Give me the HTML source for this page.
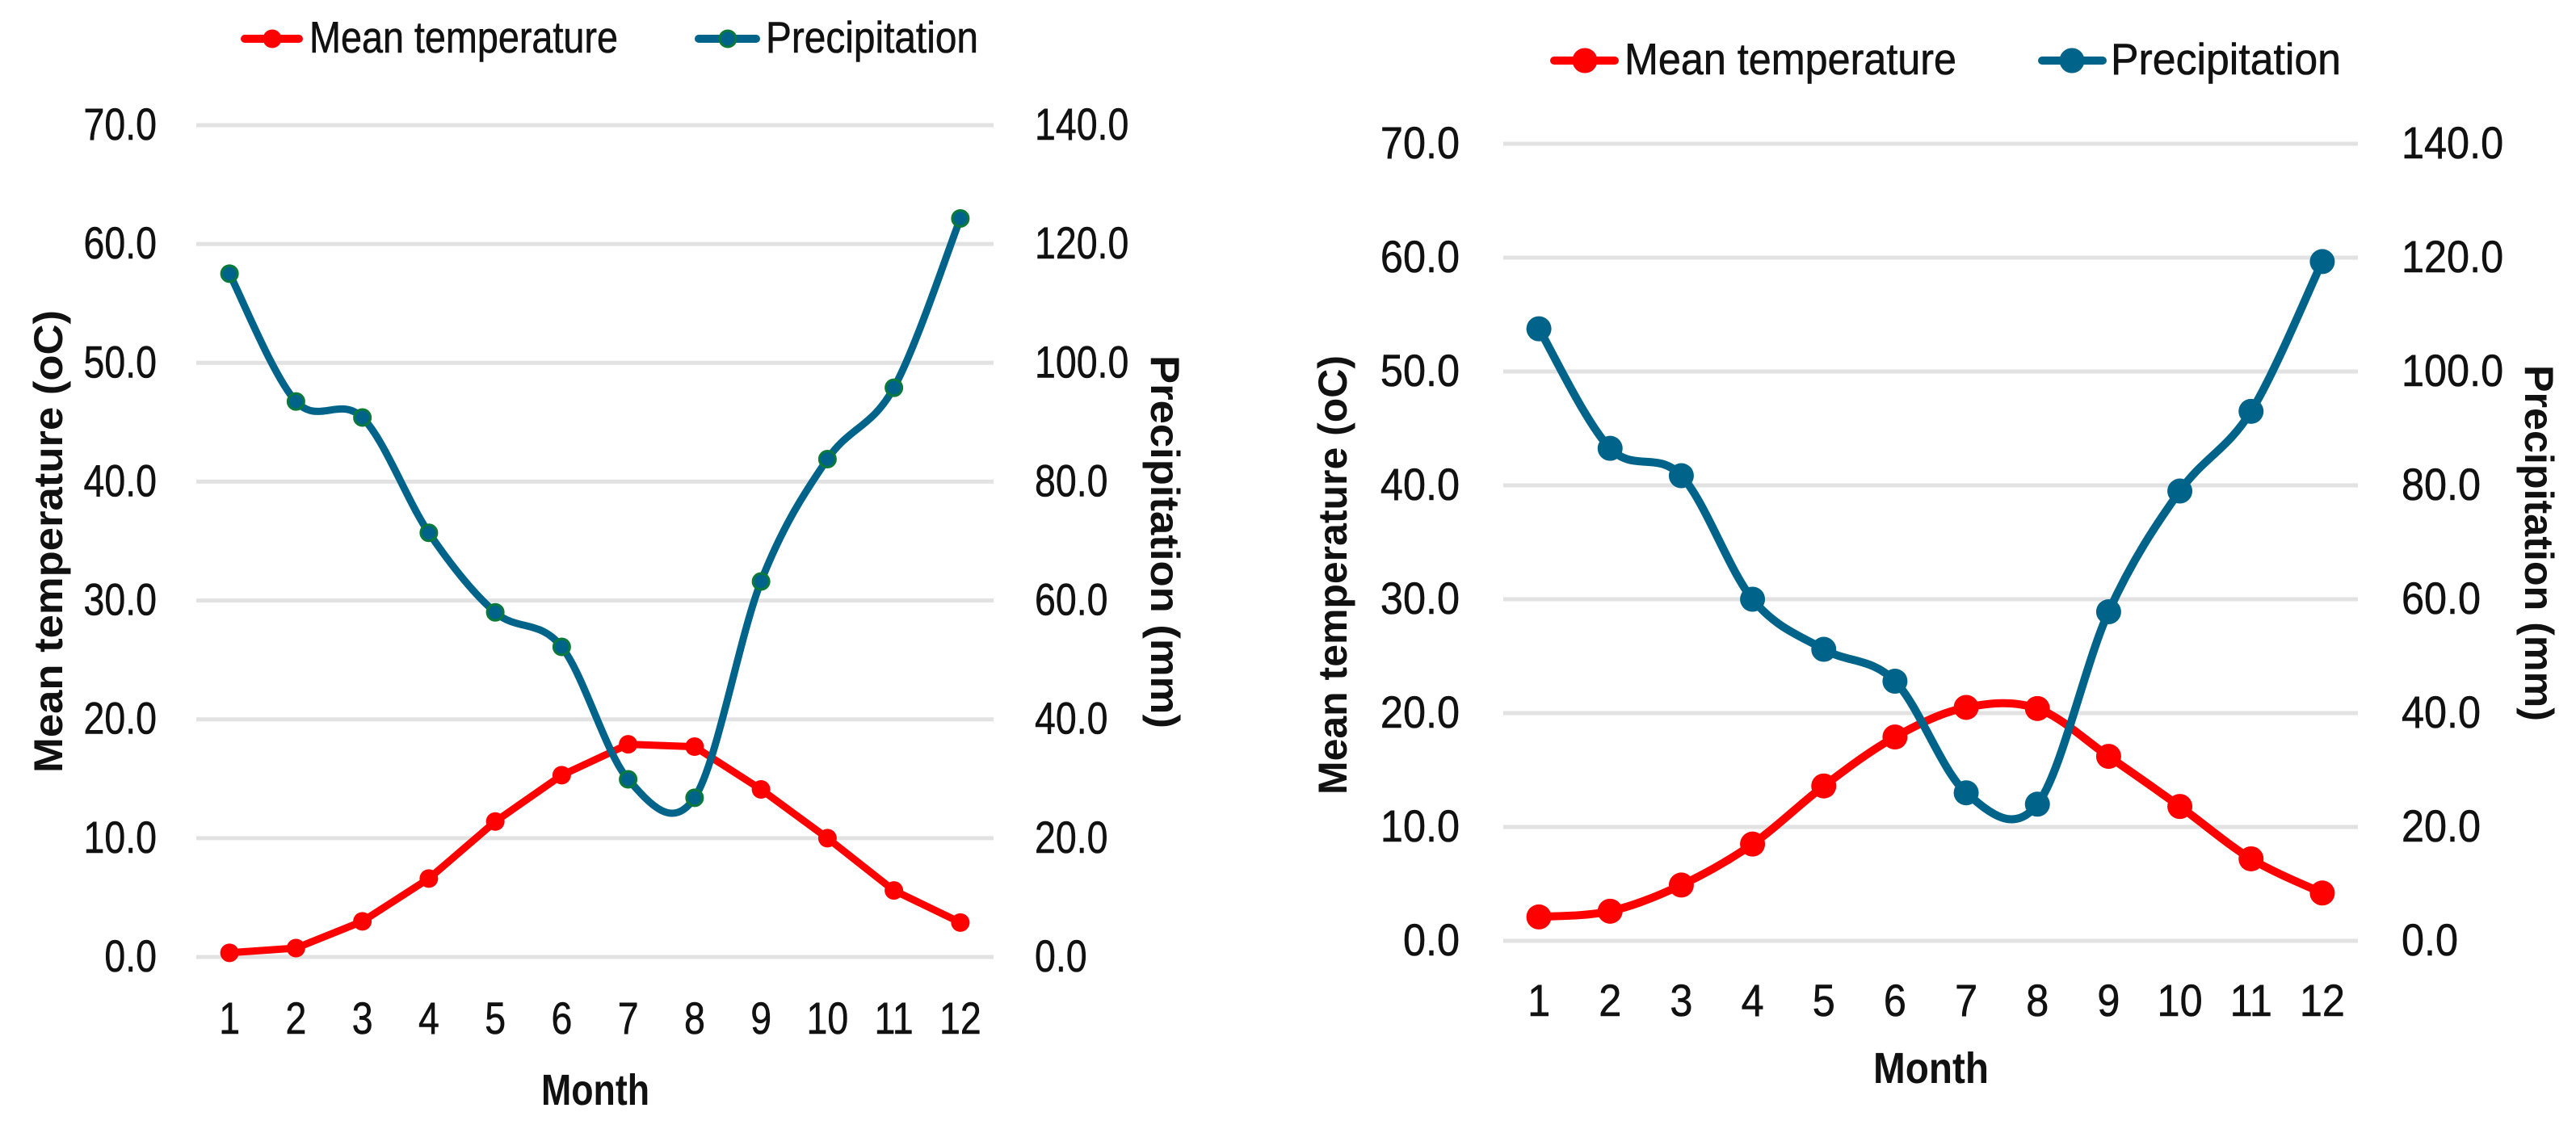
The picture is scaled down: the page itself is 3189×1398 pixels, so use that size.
<!DOCTYPE html>
<html lang="en">
<head>
<meta charset="utf-8">
<title>Mean temperature and precipitation by month</title>
<style>
  html, body { margin: 0; padding: 0; background: #ffffff; }
  svg { display: block; font-family: "Liberation Sans", sans-serif; }
  .title { font-weight: 700; font-size: 50px; fill: #111; }
  .legend { font-size: 55px; fill: #111; stroke: #111; stroke-width: 0.6px; }
  .tick { font-size: 56px; fill: #111; stroke: #111; stroke-width: 0.6px; }
</style>
</head>
<body>
<svg id="figure" xmlns="http://www.w3.org/2000/svg" width="3189" height="1398" viewBox="0 0 3189 1398">
  <rect width="3189" height="1398" fill="#ffffff"/>

  <g id="chart-left"></g>
  <g id="chart-right"></g>

  <g>
    <g>
      <line x1="303" y1="48" x2="370" y2="48" stroke="#ff0000" stroke-width="10" stroke-linecap="round"/>
      <circle cx="337" cy="48" r="11.5" fill="#ff0000"/>
      <text class="legend" x="383" y="65" textLength="382" lengthAdjust="spacingAndGlyphs">Mean temperature</text>
    </g>
    <g>
      <line x1="865" y1="48" x2="936" y2="48" stroke="#00648a" stroke-width="10" stroke-linecap="round"/>
      <circle cx="901" cy="48" r="10" fill="#00648a" stroke="#0a7a3a" stroke-width="3"/>
      <text class="legend" x="948" y="65" textLength="263" lengthAdjust="spacingAndGlyphs">Precipitation</text>
    </g>
  </g>
  <g>
    <g>
      <line x1="1924" y1="75" x2="1999" y2="75" stroke="#ff0000" stroke-width="10" stroke-linecap="round"/>
      <circle cx="1962" cy="75" r="15.5" fill="#ff0000"/>
      <text class="legend" x="2011" y="92" textLength="411" lengthAdjust="spacingAndGlyphs">Mean temperature</text>
    </g>
    <g>
      <line x1="2528" y1="75" x2="2603" y2="75" stroke="#00648a" stroke-width="10" stroke-linecap="round"/>
      <circle cx="2565" cy="75" r="15.5" fill="#00648a"/>
      <text class="legend" x="2613" y="92" textLength="285" lengthAdjust="spacingAndGlyphs">Precipitation</text>
    </g>
  </g>

  <text class="title" transform="translate(77,957) rotate(-90)" textLength="573" lengthAdjust="spacingAndGlyphs">Mean temperature (oC)</text>
  <text class="title" transform="translate(1425,440) rotate(90)" textLength="462" lengthAdjust="spacingAndGlyphs">Precipitation (mm)</text>
  <text class="title" x="670" y="1368" textLength="134" lengthAdjust="spacingAndGlyphs" style="font-size:54px">Month</text>

  <text class="title" transform="translate(1667,984) rotate(-90)" textLength="544" lengthAdjust="spacingAndGlyphs">Mean temperature (oC)</text>
  <text class="title" transform="translate(3126,452) rotate(90)" textLength="441" lengthAdjust="spacingAndGlyphs">Precipitation (mm)</text>
  <text class="title" x="2319" y="1341" textLength="143" lengthAdjust="spacingAndGlyphs" style="font-size:54px">Month</text>
</svg>

<script>
const months = [1, 2, 3, 4, 5, 6, 7, 8, 9, 10, 11, 12];
const temperatureTicks = ["0.0", "10.0", "20.0", "30.0", "40.0", "50.0", "60.0", "70.0"];
const precipitationTicks = ["0.0", "20.0", "40.0", "60.0", "80.0", "100.0", "120.0", "140.0"];

const leftTemperature = [0.35, 0.75, 3.0, 6.6, 11.4, 15.3, 17.9, 17.7, 14.1, 10.0, 5.6, 2.9];
const leftPrecipitation = [115.0, 93.5, 90.8, 71.4, 58.0, 52.2, 29.9, 26.8, 63.2, 83.8, 95.8, 124.3];
const rightTemperature = [2.1, 2.6, 4.9, 8.5, 13.6, 17.9, 20.5, 20.4, 16.2, 11.8, 7.2, 4.2];
const rightPrecipitation = [107.5, 86.5, 81.7, 60.0, 51.2, 45.6, 26.0, 24.0, 57.8, 79.0, 93.0, 119.3];

const SVG_NS = "http://www.w3.org/2000/svg";

function make(tag, parent) {
  const el = document.createElementNS(SVG_NS, tag);
  parent.appendChild(el);
  return el;
}

function straightPath(points) {
  return points.map(function (p, i) {
    return (i ? "L" : "M") + p[0].toFixed(1) + " " + p[1].toFixed(1);
  }).join("");
}

function smoothPath(points) {
  let d = "M" + points[0][0].toFixed(1) + " " + points[0][1].toFixed(1);
  for (let i = 0; i < points.length - 1; i++) {
    const p0 = points[Math.max(i - 1, 0)];
    const p1 = points[i];
    const p2 = points[i + 1];
    const p3 = points[Math.min(i + 2, points.length - 1)];
    const c1x = p1[0] + (p2[0] - p0[0]) / 6;
    const c1y = p1[1] + (p2[1] - p0[1]) / 6;
    const c2x = p2[0] - (p3[0] - p1[0]) / 6;
    const c2y = p2[1] - (p3[1] - p1[1]) / 6;
    d += "C" + [c1x, c1y, c2x, c2y, p2[0], p2[1]].map(function (n) { return n.toFixed(1); }).join(" ");
  }
  return d;
}

function drawChart(root, opt, temperature, precipitation) {
  const maxTemp = parseFloat(temperatureTicks[temperatureTicks.length - 1]);
  const maxPrec = parseFloat(precipitationTicks[precipitationTicks.length - 1]);
  const step = (opt.right - opt.left) / months.length;
  const xScale = function (i) { return opt.left + step * (i + 0.5); };
  const yTemp = function (v) { return opt.bottom - (v / maxTemp) * (opt.bottom - opt.top); };
  const yPrec = function (v) { return opt.bottom - (v / maxPrec) * (opt.bottom - opt.top); };

  temperatureTicks.forEach(function (label, i) {
    const y = yTemp(parseFloat(label));
    const grid = make("line", root);
    
    
    grid.setAttribute("x1", opt.left);
    grid.setAttribute("x2", opt.right);
    grid.setAttribute("y1", y);
    grid.setAttribute("y2", y);
    grid.setAttribute("stroke", "#e2e2e2");
    grid.setAttribute("stroke-width", "5");

    const tick = make("text", root);
    
    
    tick.setAttribute("class", "tick");
    tick.setAttribute("transform", "translate(" + opt.tickEnd + "," + (y + 18) + ") scale(" + opt.sx + ",1)");
    tick.setAttribute("text-anchor", "end");
    tick.textContent = label;

    const tick2 = make("text", root);
    
    
    tick2.setAttribute("class", "tick");
    tick2.setAttribute("transform", "translate(" + opt.tick2Start + "," + (y + 18) + ") scale(" + opt.sx + ",1)");
    tick2.textContent = precipitationTicks[i];
  });

  months.forEach(function (m, i) {
    const label = make("text", root);
    
    
    label.setAttribute("class", "tick");
    label.setAttribute("transform", "translate(" + xScale(i) + "," + opt.monthBase + ") scale(" + opt.sx + ",1)");
    label.setAttribute("text-anchor", "middle");
    label.textContent = m;
  });

  const tempPoints = temperature.map(function (v, i) { return [xScale(i), yTemp(v)]; });
  const precPoints = precipitation.map(function (v, i) { return [xScale(i), yPrec(v)]; });

  const tempLine = make("path", root);
  
  
  tempLine.setAttribute("d", opt.smoothTemp ? smoothPath(tempPoints) : straightPath(tempPoints));
  tempLine.setAttribute("fill", "none");
  tempLine.setAttribute("stroke", "#ff0000");
  tempLine.setAttribute("stroke-width", opt.lineWidth);
  tempLine.setAttribute("stroke-linejoin", "round");

  tempPoints.forEach(function (p) {
    const dot = make("circle", root);
    
    
    dot.setAttribute("cx", p[0]);
    dot.setAttribute("cy", p[1]);
    dot.setAttribute("r", opt.tempRadius);
    dot.setAttribute("fill", "#ff0000");
  });

  const precLine = make("path", root);
  
  
  precLine.setAttribute("d", smoothPath(precPoints));
  precLine.setAttribute("fill", "none");
  precLine.setAttribute("stroke", "#00648a");
  precLine.setAttribute("stroke-width", opt.lineWidth);

  precPoints.forEach(function (p) {
    const dot = make("circle", root);
    
    
    dot.setAttribute("cx", p[0]);
    dot.setAttribute("cy", p[1]);
    dot.setAttribute("r", opt.precRadius);
    dot.setAttribute("fill", "#00648a");
    if (opt.precStroke) {
      dot.setAttribute("stroke", opt.precStroke);
      dot.setAttribute("stroke-width", "3");
    }
  });
}

drawChart(document.getElementById("chart-left"), {
  left: 243, right: 1230, top: 155, bottom: 1185,
  tickEnd: 194, tick2Start: 1281, monthBase: 1280, sx: 0.83,
  lineWidth: 9, tempRadius: 11.5, precRadius: 10, precStroke: "#0a7a3a", smoothTemp: false
}, leftTemperature, leftPrecipitation);

drawChart(document.getElementById("chart-right"), {
  left: 1861, right: 2919, top: 178, bottom: 1165,
  tickEnd: 1807, tick2Start: 2973, monthBase: 1258, sx: 0.9,
  lineWidth: 10, tempRadius: 15.5, precRadius: 15.5, precStroke: null, smoothTemp: true
}, rightTemperature, rightPrecipitation);
</script>
</body>
</html>
